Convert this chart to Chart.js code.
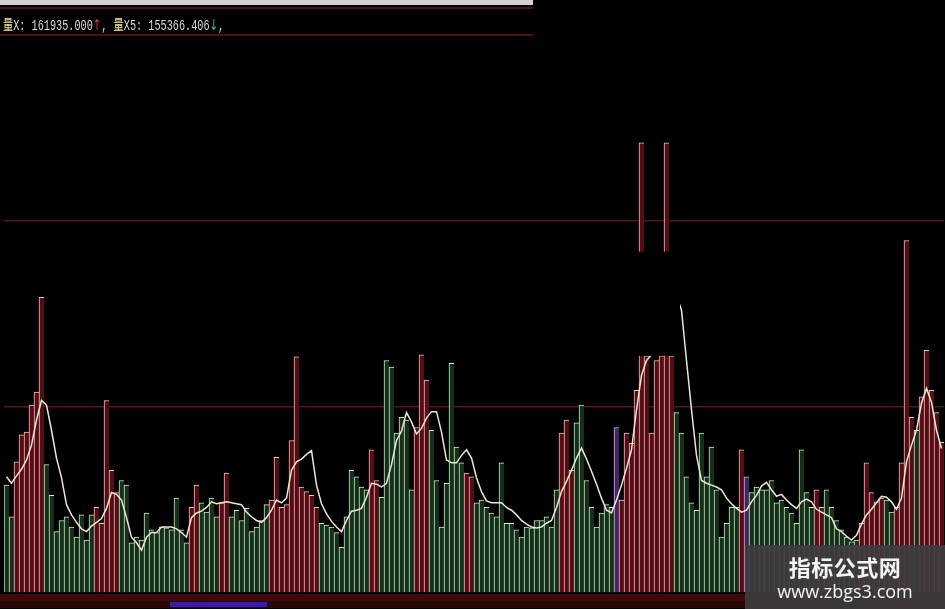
<!DOCTYPE html>
<html>
<head>
<meta charset="utf-8">
<script src="https://cdn.jsdelivr.net/npm/chart.js@4.4.1/dist/chart.umd.min.js"></script>
<style>
  html, body { margin: 0; padding: 0; background: #000; }
  #wrap { position: relative; width: 945px; height: 609px; overflow: hidden; }
  #header {
    position: absolute; left: 3px; top: 15px; white-space: pre;
    font: 15px/17px "Liberation Mono", monospace; color: #dcdcdc;
    transform: scaleX(0.68); transform-origin: 0 0;
  }
  #header .lbl { color: #efe6a0; font-family: "Noto Sans CJK SC", sans-serif; }
  #header .up { color: #e23a3a; font-family: "DejaVu Sans", sans-serif; }
  #header .down { color: #4cc24c; font-family: "DejaVu Sans", sans-serif; }
  #mark {
    position: absolute; left: 745px; top: 545px; width: 200px; height: 64px;
    background: rgba(62, 60, 60, 0.92); color: #f4f4f4; text-align: center;
  }
  #mark .cn { font: bold 22px/24px "Noto Sans CJK SC", sans-serif; margin-top: 9px; letter-spacing: 0.5px; }
  #mark .url { font: 18px/20px "Open Sans", sans-serif; margin-top: 3px; }
</style>
</head>
<body>
<div id="wrap">
  <canvas id="volChart"></canvas>
  <div id="header"><span class="lbl">量</span>X: 161935.000<span class="up">↑</span>, <span class="lbl">量</span>X5: 155366.406<span class="down">↓</span>,</div>
  <div id="mark"><div class="cn">指标公式网</div><div class="url">www.zbgs3.com</div></div>
</div>
<script>
// volume per trading day
const volume = [
  116000, 82000, 141000, 170000, 173000, 202000, 216000, 318000, 138000, 105000,
  66000, 78000, 82000, 71000, 60000, 84000, 57000, 84000, 92000, 75000,
  207000, 132000, 108000, 121000, 116000, 54000, 60000, 57000, 86000, 68000,
  65000, 71000, 70000, 68000, 102000, 68000, 54000, 92000, 116000, 97000,
  87000, 102000, 82000, 97000, 129000, 82000, 89000, 78000, 91000, 66000,
  71000, 78000, 95000, 100000, 146000, 92000, 95000, 164000, 254000, 114000,
  109000, 105000, 92000, 75000, 73000, 71000, 65000, 49000, 82000, 132000,
  125000, 114000, 111000, 154000, 121000, 103000, 250000, 243000, 172000, 189000,
  186000, 111000, 178000, 256000, 229000, 175000, 121000, 71000, 118000, 247000,
  157000, 140000, 129000, 125000, 97000, 100000, 92000, 86000, 82000, 140000,
  75000, 75000, 68000, 60000, 71000, 70000, 78000, 78000, 82000, 71000,
  111000, 172000, 186000, 132000, 183000, 202000, 121000, 92000, 71000, 86000,
  95000, 92000, 178000, 100000, 172000, 161000, 218000, 484000, 255000, 172000,
  250000, 255000, 484000, 255000, 194000, 172000, 125000, 97000, 89000, 172000,
  125000, 157000, 111000, 60000, 75000, 92000, 92000, 154000, 125000, 108000,
  114000, 111000, 111000, 121000, 97000, 100000, 92000, 86000, 75000, 154000,
  108000, 92000, 111000, 92000, 111000, 92000, 78000, 68000, 60000, 55000,
  57000, 75000, 140000, 108000, 98000, 102000, 100000, 87000, 92000, 140000,
  379000, 189000, 175000, 211000, 261000, 218000, 194000, 161935
];

// 5-day average line
const ma5 = [
  125000, 118000, 126000, 133000, 143000, 159000, 186000, 207000, 202000, 175000,
  145000, 124000, 95000, 84000, 76000, 69000, 66000, 72000, 76000, 80000,
  91000, 108000, 106000, 100000, 81000, 60000, 54000, 46000, 60000, 65000,
  65000, 71000, 71000, 71000, 69000, 65000, 60000, 81000, 86000, 88000,
  92000, 98000, 96000, 97000, 98000, 97000, 96000, 95000, 87000, 82000,
  78000, 76000, 81000, 89000, 100000, 97000, 102000, 132000, 141000, 144000,
  149000, 153000, 116000, 96000, 85000, 77000, 71000, 66000, 78000, 88000,
  89000, 91000, 103000, 118000, 117000, 114000, 118000, 138000, 164000, 174000,
  194000, 184000, 171000, 177000, 188000, 195000, 195000, 173000, 143000, 140000,
  140000, 148000, 154000, 145000, 124000, 109000, 99000, 97000, 97000, 97000,
  92000, 89000, 84000, 78000, 74000, 71000, 70000, 71000, 75000, 78000,
  92000, 109000, 120000, 132000, 145000, 156000, 144000, 131000, 117000, 102000,
  89000, 86000, 100000, 116000, 134000, 154000, 197000, 234000, 250000, 256000,
  283000, 315000, 336000, 331000, 320000, 304000, 250000, 197000, 148000, 121000,
  118000, 116000, 114000, 111000, 102000, 96000, 91000, 87000, 89000, 98000,
  105000, 115000, 119000, 111000, 104000, 106000, 100000, 95000, 91000, 98000,
  101000, 98000, 90000, 87000, 84000, 81000, 69000, 66000, 61000, 57000,
  62000, 74000, 84000, 90000, 97000, 104000, 103000, 98000, 90000, 102000,
  141000, 159000, 175000, 204000, 220000, 205000, 175000, 155366
];

// 1 = up day (red), -1 = down day (green), 0 = flat (purple)
const direction = [
  -1, -1, 1, 1, 1, 1, 1, 1, -1, -1,
  -1, -1, -1, -1, -1, -1, -1, -1, 1, 1,
  1, 1, 1, -1, -1, -1, -1, -1, -1, -1,
  -1, -1, -1, -1, -1, -1, -1, 1, 1, -1,
  -1, -1, -1, 1, 1, -1, -1, -1, -1, -1,
  -1, -1, -1, 1, 1, 1, 1, 1, 1, 1,
  1, 1, 1, -1, -1, -1, -1, -1, -1, -1,
  -1, -1, -1, 1, 1, -1, -1, -1, -1, -1,
  -1, -1, 1, 1, 1, -1, -1, -1, -1, -1,
  -1, -1, 1, 1, -1, -1, -1, -1, -1, -1,
  -1, -1, -1, -1, -1, -1, -1, -1, -1, -1,
  -1, 1, 1, 1, -1, -1, -1, -1, -1, -1,
  -1, -1, 0, 1, 1, 1, 1, 1, 1, 1,
  1, 1, 1, 1, -1, -1, -1, -1, -1, -1,
  -1, -1, -1, -1, -1, -1, -1, 1, 0, -1,
  -1, -1, -1, -1, -1, -1, -1, -1, -1, -1,
  -1, -1, 1, 1, -1, -1, -1, -1, -1, -1,
  -1, 1, 1, 1, 1, 1, -1, -1, 1, 1,
  1, 1, -1, 1, 1, 1, 1, 1
];

const days = volume.map((_, i) => "D" + (i + 1));
const gridValues = [200000, 400000];

const fillFor = d => (d > 0 ? "#560c12" : d < 0 ? "#15301a" : "#432566");
const edgeFor = d => (d > 0 ? "#eec4c6" : d < 0 ? "#cfeec8" : "#d3b0ea");

// screen furniture of the trading terminal: top strip, bottom band, blacked-out patch
const terminalFrame = {
  id: "terminalFrame",
  beforeDraw(chart) {
    const { ctx, width, height } = chart;
    ctx.save();
    ctx.fillStyle = "#000";
    ctx.fillRect(0, 0, width, height);
    ctx.fillStyle = "#d2d2d2";
    ctx.fillRect(0, 0, 533, 5);
    ctx.fillStyle = "#4e1212";
    ctx.fillRect(0, 7, 533, 2);
    ctx.fillRect(0, 34, 533, 2);
    ctx.restore();
  },
  afterDatasetsDraw(chart) {
    const { ctx, scales: { x, y } } = chart;
    ctx.save();
    // part of the picture was blacked out
    const left = x.getPixelForValue(125.5);
    const right = x.getPixelForValue(134.7);
    const top = y.getPixelForValue(367000);
    const bottom = y.getPixelForValue(255000);
    ctx.fillStyle = "#000";
    ctx.fillRect(left, top, right - left, bottom - top);
    // bottom band
    const base = y.getPixelForValue(0);
    ctx.fillStyle = "#3e0a0c";
    ctx.fillRect(0, base + 1, chart.width, 7);
    ctx.fillStyle = "#2a0707";
    ctx.fillRect(0, base + 8, chart.width, 7);
    ctx.fillStyle = "#3b1c9c";
    ctx.fillRect(170, base + 9, 97, 5);
    ctx.restore();
  }
};

new Chart(document.getElementById("volChart"), {
  data: {
    labels: days,
    datasets: [
      {
        type: "line",
        label: "量X5",
        data: ma5,
        borderColor: "#ebe7d4",
        borderWidth: 1.5,
        pointRadius: 0,
        tension: 0,
        order: 0,
      },
      {
        type: "bar",
        label: "量X",
        data: volume,
        backgroundColor: direction.map(fillFor),
        borderColor: direction.map(edgeFor),
        borderWidth: { left: 1, top: 1, right: 0, bottom: 0 },
        borderSkipped: "bottom",
        barPercentage: 1,
        categoryPercentage: 1,
        order: 1,
      },
    ],
  },
  options: {
    responsive: true,
    maintainAspectRatio: false,
    animation: false,
    layout: { padding: { left: 4, right: 1, top: 35, bottom: 16 } },
    plugins: { legend: { display: false }, tooltip: { enabled: false } },
    scales: {
      x: { display: false, offset: true },
      y: {
        min: 0,
        max: 600000,
        ticks: { display: false, stepSize: 200000 },
        border: { display: false },
        grid: {
          drawTicks: false,
          lineWidth: 1.5,
          color: c => (gridValues.includes(c.tick.value) ? "#561416" : "transparent"),
        },
      },
    },
  },
  plugins: [terminalFrame],
});
</script>
</body>
</html>
